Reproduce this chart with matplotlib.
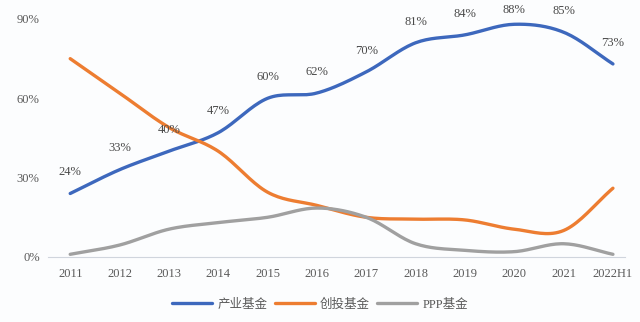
import numpy as np
import matplotlib
matplotlib.use("Agg")
import matplotlib.pyplot as plt

plt.rcParams['font.family'] = ['Liberation Serif', 'Noto Sans CJK SC', 'DejaVu Sans']

years = ["2011", "2012", "2013", "2014", "2015", "2016", "2017", "2018", "2019", "2020", "2021", "2022H1"]
industry = [24, 33, 40, 47, 60, 62, 70, 81, 84, 88, 85, 73]
venture = [75, 62, 49, 40, 24.5, 19.5, 15, 14.3, 14, 10.5, 10, 26]
ppp = [1, 4.5, 10.5, 13, 15, 18.5, 15, 5, 2.5, 2, 5, 1]
names = ["产业基金", "创投基金", "PPP基金"]
colors = ["#3d68bd", "#ed7d31", "#a0a0a0"]


def smooth(x, y, n=20):
    # catmull-rom style smoothing like excel's smoothed line
    x = np.asarray(x, float)
    y = np.asarray(y, float)
    px = np.concatenate([[2 * x[0] - x[1]], x, [2 * x[-1] - x[-2]]])
    py = np.concatenate([[2 * y[0] - y[1]], y, [2 * y[-1] - y[-2]]])
    xs, ys = [], []
    t = np.linspace(0, 1, n)
    for i in range(1, len(px) - 2):
        for p, out in ((px, xs), (py, ys)):
            p0, p1, p2, p3 = p[i - 1], p[i], p[i + 1], p[i + 2]
            seg = 0.5 * ((2 * p1) + (-p0 + p2) * t + (2 * p0 - 5 * p1 + 4 * p2 - p3) * t ** 2
                         + (-p0 + 3 * p1 - 3 * p2 + p3) * t ** 3)
            out.extend(seg)
    return np.array(xs), np.array(ys)


fig = plt.figure(figsize=(6.4, 3.22), dpi=100, facecolor="#fcfdfe")
ax = fig.add_axes([0.075, 0.202, 0.902, 0.739])
ax.set_facecolor("#fcfdfe")

x = np.arange(len(years))
for vals, name, c in zip([industry, venture, ppp], names, colors):
    sx, sy = smooth(x, vals)
    ax.plot(sx, sy, color=c, lw=2.4, label=name, solid_capstyle="round")

for xi, v in zip(x, industry):
    off = 6 if v >= 88 else 11
    ax.annotate(f"{v}%", (xi, v), xytext=(0, off), textcoords="offset points",
                ha="center", va="bottom", fontsize=9, color="#4a4a4a", annotation_clip=False)

ax.set_xlim(-0.45, 11.25)
ax.set_ylim(0, 90)
ax.set_yticks([0, 30, 60, 90])
ax.set_yticklabels(["0%", "30%", "60%", "90%"])
ax.set_xticks(x)
ax.set_xticklabels(years)
ax.tick_params(length=0, labelsize=9, colors="#5a5a5a")
ax.tick_params(axis="y", pad=6)
ax.tick_params(axis="x", pad=8)
for s in ["top", "right", "left"]:
    ax.spines[s].set_visible(False)
ax.spines["bottom"].set_color("#d0d5dd")

fig.legend(loc="lower center", bbox_to_anchor=(0.5, 0.0), ncol=3, frameon=False,
           fontsize=9, handlelength=3.2, columnspacing=0.6, handletextpad=0.4,
           labelcolor="#595959")

fig.savefig("out.png", dpi=100, facecolor=fig.get_facecolor())
